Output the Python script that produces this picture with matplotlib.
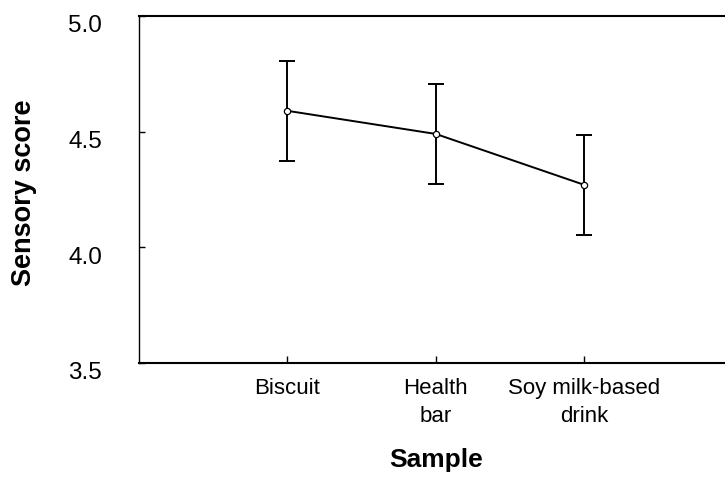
import numpy as np
import matplotlib
matplotlib.use('Agg')
import matplotlib.pyplot as plt
from matplotlib.transforms import ScaledTranslation

plt.rcParams['font.family'] = ['Liberation Sans', 'DejaVu Sans']

# sensory scores per sample (mean and error)
samples = ['Biscuit', 'Health\nbar', 'Soy milk-based\ndrink']
scores = [4.59, 4.49, 4.27]
errors = [0.215, 0.215, 0.215]
yticks = [3.5, 4.0, 4.5, 5.0]

x = np.arange(1, len(samples) + 1)

fig = plt.figure(figsize=(7.25, 4.78), dpi=100)
ax = fig.add_axes([0.1917, 0.2406, 0.8188, 0.726])

ax.errorbar(x, scores, yerr=errors, fmt='none', ecolor='black',
            elinewidth=1.4, capsize=6, capthick=1.4)
ax.plot(x, scores, color='black', lw=1.4, marker='o', markersize=4.5,
        markerfacecolor='white', markeredgecolor='black', markeredgewidth=0.9,
        zorder=3)

ax.set_xlim(0, 4)
ax.set_ylim(3.5, 5.0)
ax.set_yticks(yticks)
ax.set_yticklabels(['%.1f' % v for v in yticks])
ax.set_xticks(x)
ax.set_xticklabels(samples, linespacing=1.45)

ax.tick_params(axis='y', direction='in', length=4, width=1, pad=26.5, labelsize=17.5)
ax.tick_params(axis='x', direction='in', length=5, width=1, pad=10.5, labelsize=16)

# y labels sit a little below their ticks
shift = ScaledTranslation(0, -8 / 100, fig.dpi_scale_trans)
for lab in ax.get_yticklabels():
    lab.set_transform(lab.get_transform() + shift)

ax.spines['left'].set_linewidth(1.0)
ax.spines['top'].set_linewidth(1.5)
ax.spines['bottom'].set_linewidth(1.5)
ax.spines['right'].set_visible(False)

ax.set_xlabel('Sample', fontsize=19, fontweight='bold')
ax.set_ylabel('Sensory score', fontsize=19.5, fontweight='bold')
ax.xaxis.set_label_coords(0.5, -0.245)
ax.yaxis.set_label_coords(-0.171, 0.49)

plt.savefig('out.png', dpi=100)
